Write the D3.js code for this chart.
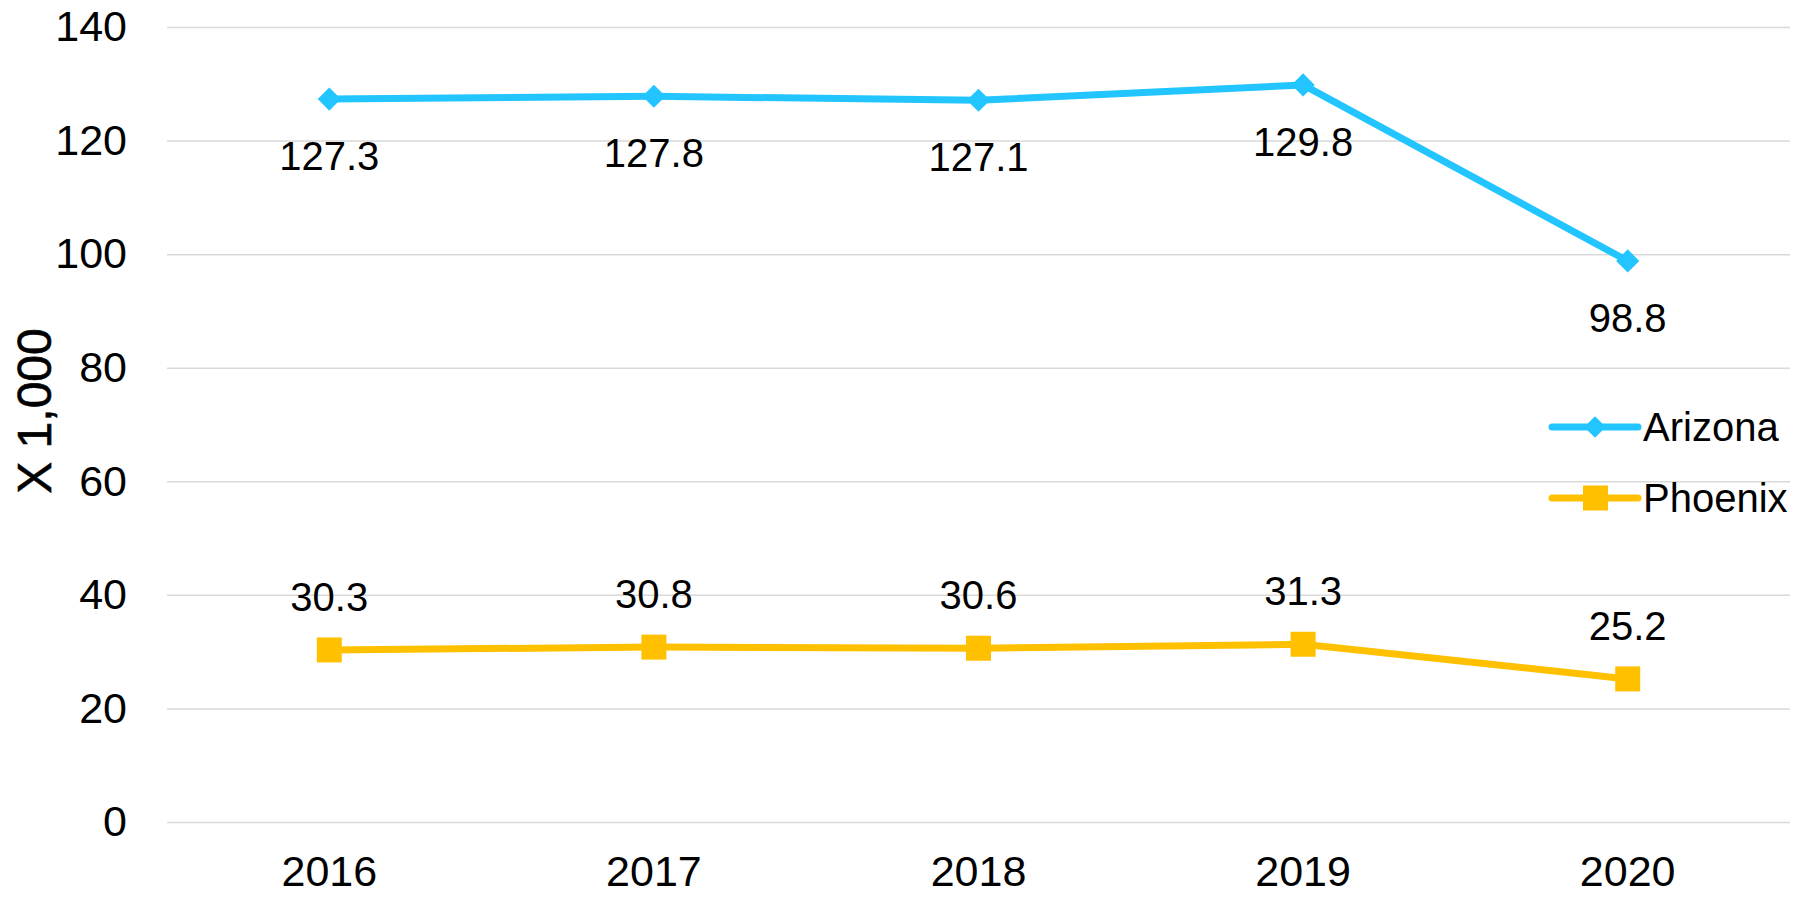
<!DOCTYPE html>
<html>
<head>
<meta charset="utf-8">
<script src="https://cdn.jsdelivr.net/npm/d3@7"></script>
<style>
  body { margin: 0; background: #fff; }
  svg text { font-family: "Liberation Sans", Arial, sans-serif; fill: #000; }
</style>
</head>
<body>
<script>
// données
const years = ['2016', '2017', '2018', '2019', '2020'];
const arizona = [127.3, 127.8, 127.1, 129.8, 98.8];
const phoenix = [30.3, 30.8, 30.6, 31.3, 25.2];
const yTicks = [0, 20, 40, 60, 80, 100, 120, 140];

const width = 1810, height = 898;
const margin = { top: 27, right: 20, bottom: 76, left: 167 };

const svg = d3.select('body')
    .append('svg')
    .attr('width', width)
    .attr('height', height);

const x = d3.scaleBand()
    .domain(years)
    .range([margin.left, width - margin.right]);

const y = d3.scaleLinear()
    .domain([0, 140])
    .range([height - margin.bottom, margin.top]);

const cx = d => x(d) + x.bandwidth() / 2;

// grille + axe Y
const yAxis = svg.append('g')
    .attr('transform', `translate(${margin.left}, 0)`)
    .call(d3.axisLeft(y).tickValues(yTicks).tickSize(-(width - margin.left - margin.right)).tickPadding(40));

yAxis.select('.domain').remove();
yAxis.selectAll('.tick line').attr('stroke', '#d9d9d9').attr('stroke-width', 1.5);
yAxis.selectAll('.tick text').style('font-size', '43px');

// axe X
const xAxis = svg.append('g')
    .attr('transform', `translate(0, ${height - margin.bottom})`)
    .call(d3.axisBottom(x).tickSize(0).tickPadding(33));
xAxis.select('.domain').remove();
xAxis.selectAll('.tick text').style('font-size', '43px');

// titre Y
svg.append('text')
    .attr('transform', `translate(51, 411) rotate(-90)`)
    .attr('text-anchor', 'middle')
    .style('font-size', '48px')
    .style('stroke', '#000')
    .style('stroke-width', 0.6)
    .text('X 1,000');

const line = d3.line()
    .x((d, i) => cx(years[i]))
    .y(d => y(d));

const blue = '#22c5ff', gold = '#ffc000';

// Arizona
svg.append('path')
    .datum(arizona)
    .attr('fill', 'none')
    .attr('stroke', blue)
    .attr('stroke-width', 7)
    .attr('stroke-linejoin', 'round')
    .attr('d', line);

svg.selectAll('.az-pt')
    .data(arizona)
    .join('path')
    .attr('class', 'az-pt')
    .attr('fill', blue)
    .attr('transform', (d, i) => `translate(${cx(years[i])}, ${y(d)}) rotate(45) scale(0.8)`)
    .attr('d', d3.symbol().type(d3.symbolSquare).size(420));

svg.selectAll('.az-lbl')
    .data(arizona)
    .join('text')
    .attr('class', 'az-lbl')
    .attr('x', (d, i) => cx(years[i]))
    .attr('y', d => y(d) + 71)
    .attr('text-anchor', 'middle')
    .style('font-size', '40px')
    .text(d => d.toFixed(1));

// Phoenix
svg.append('path')
    .datum(phoenix)
    .attr('fill', 'none')
    .attr('stroke', gold)
    .attr('stroke-width', 7)
    .attr('stroke-linejoin', 'round')
    .attr('d', line);

svg.selectAll('.ph-pt')
    .data(phoenix)
    .join('rect')
    .attr('class', 'ph-pt')
    .attr('fill', gold)
    .attr('x', (d, i) => cx(years[i]) - 12.5)
    .attr('y', d => y(d) - 12.5)
    .attr('width', 25)
    .attr('height', 25);

svg.selectAll('.ph-lbl')
    .data(phoenix)
    .join('text')
    .attr('class', 'ph-lbl')
    .attr('x', (d, i) => cx(years[i]))
    .attr('y', d => y(d) - 39)
    .attr('text-anchor', 'middle')
    .style('font-size', '40px')
    .text(d => d.toFixed(1));

// légende
const legend = [
    { name: 'Arizona', color: blue, y: 427, shape: 'diamond' },
    { name: 'Phoenix', color: gold, y: 498, shape: 'square' }
];

const lg = svg.selectAll('.legend')
    .data(legend)
    .join('g')
    .attr('class', 'legend')
    .attr('transform', d => `translate(1552, ${d.y})`);

lg.append('line')
    .attr('x1', 0).attr('x2', 86)
    .attr('stroke', d => d.color)
    .attr('stroke-width', 7)
    .attr('stroke-linecap', 'round');

lg.filter(d => d.shape === 'square')
    .append('rect')
    .attr('x', 31).attr('y', -12.5)
    .attr('width', 25).attr('height', 25)
    .attr('fill', d => d.color);

lg.filter(d => d.shape === 'diamond')
    .append('path')
    .attr('transform', 'translate(43, 0) rotate(45) scale(0.75)')
    .attr('d', d3.symbol().type(d3.symbolSquare).size(420))
    .attr('fill', d => d.color);

lg.append('text')
    .attr('x', 91)
    .attr('y', 14)
    .style('font-size', '40px')
    .text(d => d.name);
</script>
</body>
</html>
